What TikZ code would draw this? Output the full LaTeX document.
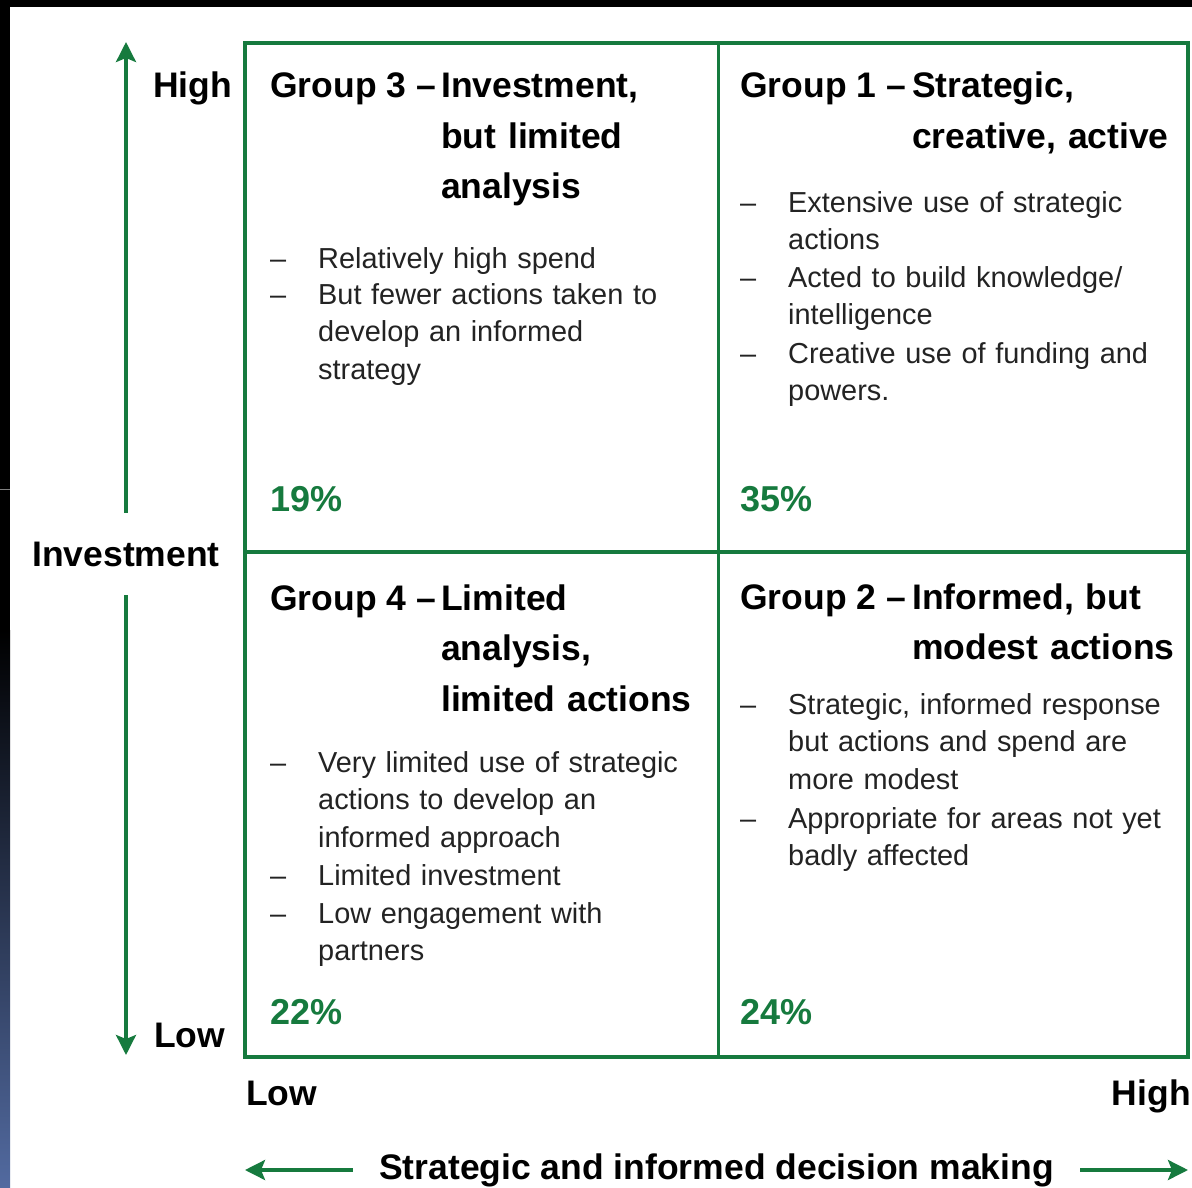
\documentclass[tikz,border=0pt]{standalone}
\usepackage{fontspec}
\setmainfont{Liberation Sans}
\usetikzlibrary{arrows.meta}

\definecolor{quadgreen}{RGB}{22,122,62}
\definecolor{stripblue}{RGB}{82,106,160}
\definecolor{bodygray}{RGB}{35,35,35}

\newcommand\headfont{\fontsize{35.5}{50.5}\selectfont\bfseries}
\newcommand\bodyfont{\fontsize{28.9}{37.8}\selectfont}

\begin{document}
\begin{tikzpicture}[x=1pt,y=-1pt,
  frameline/.style={draw=quadgreen,line width=3.5pt},
  axisarrow/.style={draw=quadgreen,line width=3.5pt,-{Stealth[length=20pt,width=20pt,inset=4pt]}},
  axislabel/.style={font=\headfont,inner sep=0pt},
  grouphead/.style={font=\headfont,anchor=base west,inner sep=0pt},
  groupname/.style={grouphead,text width=300pt,align=left},
  bulletdash/.style={font=\bodyfont,text=bodygray,anchor=base west,inner sep=0pt},
  bullettext/.style={bulletdash,text width=430pt,align=left},
  share/.style={font=\fontsize{36}{40}\selectfont\bfseries,text=quadgreen,anchor=base west,inner sep=0pt}]
\useasboundingbox (0,0) rectangle (1192,1188);
\fill[white] (0,0) rectangle (1192,1188);
% dark edges of the page
\fill[black] (0,0) rectangle (1192,7);
\fill[black] (0,0) rectangle (10,630);
\shade[top color=black,bottom color=stripblue] (0,630) rectangle (10,1188);
\draw[gray,line width=1pt] (0,489) -- (10,489);

% the four quadrants
\coordinate (nw) at (245,43);
\coordinate (se) at (1188,1057);
\coordinate (mid) at (718.5,552);
\draw[frameline] (nw) rectangle (se);
\draw[frameline] (mid |- nw) -- (mid |- se);
\draw[frameline] (nw |- mid) -- (se |- mid);

% vertical axis
\coordinate (ytop) at (126,42);
\coordinate (ybot) at (126,1055);
\node[axislabel,minimum height=82pt] (inv) at (126,554) {Investment};
\draw[axisarrow] (inv.north) -- (ytop);
\draw[axisarrow] (inv.south) -- (ybot);
\node[axislabel,anchor=base west] (yhigh) at (153,98) {High};
\node[axislabel,anchor=base west] (ylow) at (154,1047) {Low};

% horizontal axis
\coordinate (xleft) at (245,1170);
\coordinate (xright) at (1188,1170);
\node[axislabel,inner xsep=26pt] (dec) at (716.5,1170) {Strategic and informed decision making};
\draw[axisarrow] (dec.west) -- (xleft);
\draw[axisarrow] (dec.east) -- (xright);
\node[axislabel,anchor=base west] (xlow) at (246,1105) {Low};
\node[axislabel,anchor=base east] (xhigh) at (1191,1105) {High};

% Group 3
\node[grouphead] (g3) at (270,98) {Group 3 --};
\node[groupname] (g3name) at (441,98) {Investment,\\but limited\\analysis};
\node[bulletdash] (g3d1) at (270,268) {--};
\node[bullettext] (g3t1) at (318,268) {Relatively high spend};
\node[bulletdash] (g3d2) at (270,304) {--};
\node[bullettext] (g3t2) at (318,304) {But fewer actions taken to\\develop an informed\\strategy};
\node[share] (g3share) at (270,511) {19\%};

% Group 1
\node[grouphead] (g1) at (740,98) {Group 1 --};
\node[groupname] (g1name) at (912,98) {Strategic,\\creative, active};
\node[bulletdash] (g1d1) at (740,212) {--};
\node[bullettext] (g1t1) at (788,212) {Extensive use of strategic\\actions};
\node[bulletdash] (g1d2) at (740,287) {--};
\node[bullettext] (g1t2) at (788,287) {Acted to build knowledge/\\intelligence};
\node[bulletdash] (g1d3) at (740,363) {--};
\node[bullettext] (g1t3) at (788,363) {Creative use of funding and\\powers.};
\node[share] (g1share) at (740,511) {35\%};

% Group 4
\node[grouphead] (g4) at (270,610) {Group 4 --};
\node[groupname] (g4name) at (441,610) {Limited\\analysis,\\limited actions};
\node[bulletdash] (g4d1) at (270,772) {--};
\node[bullettext] (g4t1) at (318,772) {Very limited use of strategic\\actions to develop an\\informed approach};
\node[bulletdash] (g4d2) at (270,885) {--};
\node[bullettext] (g4t2) at (318,885) {Limited investment};
\node[bulletdash] (g4d3) at (270,923) {--};
\node[bullettext] (g4t3) at (318,923) {Low engagement with\\partners};
\node[share] (g4share) at (270,1024) {22\%};

% Group 2
\node[grouphead] (g2) at (740,609) {Group 2 --};
\node[groupname] (g2name) at (912,609) {Informed, but\\modest actions};
\node[bulletdash] (g2d1) at (740,714) {--};
\node[bullettext] (g2t1) at (788,714) {Strategic, informed response\\but actions and spend are\\more modest};
\node[bulletdash] (g2d2) at (740,828) {--};
\node[bullettext] (g2t2) at (788,828) {Appropriate for areas not yet\\badly affected};
\node[share] (g2share) at (740,1024) {24\%};
\end{tikzpicture}
\end{document}
